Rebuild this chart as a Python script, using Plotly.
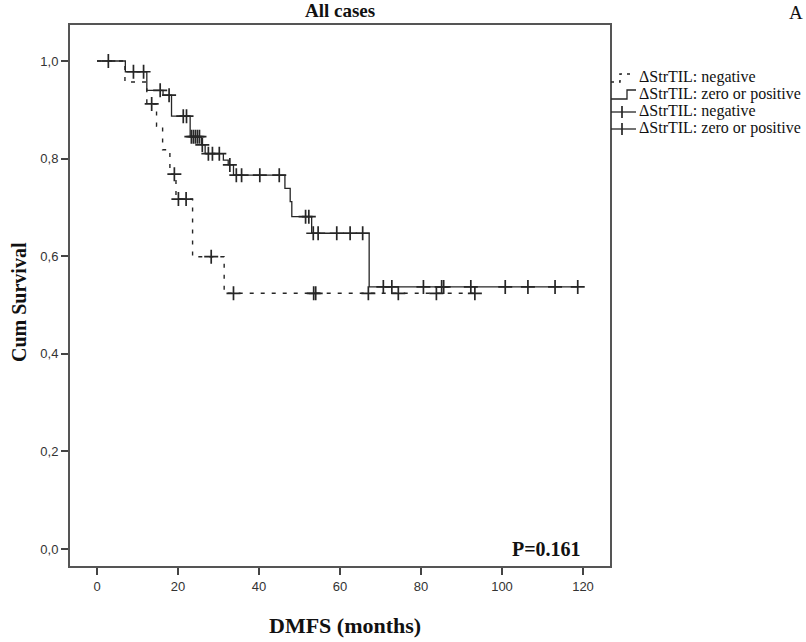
import numpy as np
import plotly.graph_objects as go

# Kaplan-Meier step estimates: event times and survival after each step
pos_times = [0, 7.0, 12.3, 16.3, 18.4, 23.0, 25.8, 26.7, 31.2, 32.4, 33.7, 46.4, 47.7, 48.1, 53.0, 67.2]
pos_surv = [1.0, 0.978, 0.94, 0.93, 0.887, 0.845, 0.828, 0.81, 0.797, 0.787, 0.766, 0.739, 0.712, 0.681, 0.647, 0.537]
pos_end = 118.7
pos_censored = [2.8, 9.0, 11.5, 15.6, 17.8, 21.3, 22.1, 23.3, 23.8, 24.3, 24.8, 25.3, 26.0,
                27.5, 28.5, 30.2, 32.8, 34.4, 35.7, 40.2, 45.0, 51.5, 52.3, 53.4, 54.6,
                59.2, 62.5, 65.6, 70.7, 72.8, 80.6, 85.1, 85.6, 92.3, 100.8, 106.4, 113.1, 118.7]

neg_times = [0, 6.9, 12.3, 14.7, 16.2, 18.0, 19.5, 23.6, 31.4]
neg_surv = [1.0, 0.957, 0.912, 0.866, 0.818, 0.768, 0.717, 0.599, 0.524]
neg_end = 93.3
neg_censored = [13.5, 19.1, 20.1, 22.0, 28.2, 33.7, 53.5, 54.0, 67.0, 74.4, 83.8, 93.3]

x_ticks = [0, 20, 40, 60, 80, 100, 120]
y_ticks = [0.0, 0.2, 0.4, 0.6, 0.8, 1.0]
y_ticktext = ["0,0", "0,2", "0,4", "0,6", "0,8", "1,0"]

group_labels = ["ΔStrTIL: negative", "ΔStrTIL: zero or positive"]

W, H = 806, 642
L, R, T, B = 70, 610, 25, 566  # plot frame in pixels


def px(x):
    return (x - L) / (R - L)


def py(y):
    return (B - y) / (B - T)


def surv_at(times, surv, t):
    idx = np.searchsorted(np.asarray(times), np.asarray(t), side="right") - 1
    return np.asarray(surv)[idx]


LINE = "#262626"
fig = go.Figure()

# negative group: dashed step curve
fig.add_trace(go.Scatter(
    x=neg_times + [neg_end], y=neg_surv + [neg_surv[-1]],
    mode="lines", line=dict(color=LINE, width=1.4, dash="4px,7px", shape="hv"),
    hoverinfo="skip", showlegend=False))
# zero or positive group: solid step curve
fig.add_trace(go.Scatter(
    x=pos_times + [pos_end], y=pos_surv + [pos_surv[-1]],
    mode="lines", line=dict(color=LINE, width=1.3, shape="hv"),
    hoverinfo="skip", showlegend=False))

# censored observations
for times, surv, cens in [(neg_times, neg_surv, neg_censored), (pos_times, pos_surv, pos_censored)]:
    fig.add_trace(go.Scatter(
        x=cens, y=surv_at(times, surv, cens), mode="markers",
        marker=dict(symbol="cross-thin", size=10, line=dict(width=1.7, color=LINE)),
        hoverinfo="skip", showlegend=False))

serif = "Liberation Serif, Times New Roman, serif"
sans = "Liberation Sans Narrow, Liberation Sans, Arial, sans-serif"

annotations = [
    dict(text="<b>All cases</b>", x=px(340), y=py(11), font=dict(family=serif, size=19, color="#111")),
    dict(text="A", x=px(796), y=py(13), font=dict(family=serif, size=19, color="#111")),
    dict(text="<b>Cum Survival</b>", x=px(19), y=py(302), textangle=-90,
         font=dict(family=serif, size=20, color="#111")),
    dict(text="<b>DMFS (months)</b>", x=px(345), y=py(625), font=dict(family=serif, size=22, color="#111")),
    dict(text="<b>P=0.161</b>", x=px(583), y=py(549), xanchor="right",
         font=dict(family=serif, size=20, color="#111")),
]

# legend: two line styles, then two censor glyphs
legend_rows = [77, 94, 111, 128]
legend_texts = [group_labels[0], group_labels[1], group_labels[0], group_labels[1]]
for yy, txt in zip(legend_rows, legend_texts):
    annotations.append(dict(text=txt, x=px(637), y=py(yy), xanchor="left",
                            font=dict(family=serif, size=16, color="#111")))
for a in annotations:
    a.setdefault("xanchor", "center")
    a.update(xref="paper", yref="paper", yanchor="middle", showarrow=False)

shapes = []
# dashed step glyph
shapes.append(dict(type="path",
                   path=f"M {px(611)} {py(buf := legend_rows[0] + 5)} L {px(620)} {py(buf)} L {px(620)} {py(legend_rows[0] - 3)} L {px(634)} {py(legend_rows[0] - 3)}",
                   xref="paper", yref="paper", line=dict(color=LINE, width=1.5, dash="3px,5px")))
# solid step glyph
r2 = legend_rows[1]
shapes.append(dict(type="path",
                   path=f"M {px(611)} {py(r2 + 5)} L {px(627)} {py(r2 + 5)} L {px(627)} {py(r2 - 4)} L {px(636)} {py(r2 - 4)}",
                   xref="paper", yref="paper", line=dict(color=LINE, width=1.3)))
# censor glyphs
for yy in legend_rows[2:]:
    shapes.append(dict(type="line", x0=px(611), x1=px(636), y0=py(yy + 1), y1=py(yy + 1),
                       xref="paper", yref="paper", line=dict(color=LINE, width=1.3)))
    shapes.append(dict(type="line", x0=px(622), x1=px(622), y0=py(yy - 5), y1=py(yy + 7),
                       xref="paper", yref="paper", line=dict(color=LINE, width=1.7)))

x_per_px = 20 / 81.0
y_per_px = 1.0 / 488.0
x_range = [0 - (97 - L) * x_per_px, 0 + (R - 97) * x_per_px]
y_range = [0 - (B - 549) * y_per_px, 1.0 + (61 - T) * y_per_px]

axis_common = dict(showgrid=False, zeroline=False, showline=True, mirror=True,
                   linecolor="#555", linewidth=2, ticks="outside", ticklen=7,
                   tickwidth=1.5, tickcolor="#444",
                   tickfont=dict(family=sans, size=13, color="#333"))

fig.update_layout(
    width=W, height=H,
    margin=dict(l=L, r=W - R, t=T, b=H - B, pad=0),
    paper_bgcolor="white", plot_bgcolor="white",
    xaxis=dict(range=x_range, tickvals=x_ticks, ticktext=[str(v) for v in x_ticks], **axis_common),
    yaxis=dict(range=y_range, tickvals=y_ticks, ticktext=y_ticktext, **axis_common),
    annotations=annotations, shapes=shapes, showlegend=False,
)

fig.write_html("out.html")
